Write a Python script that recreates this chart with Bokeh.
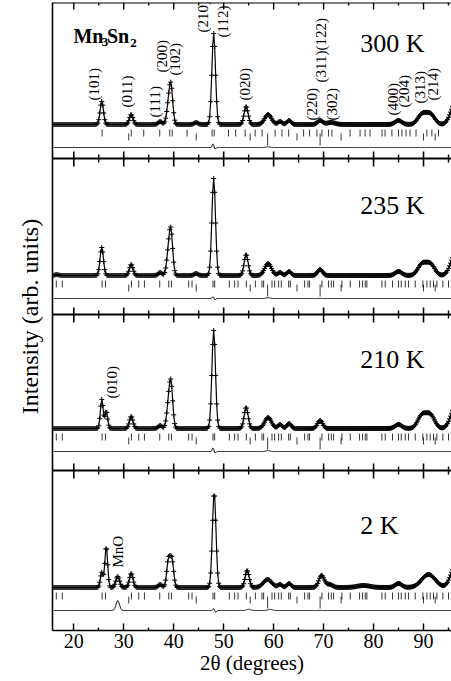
import numpy as np
from bokeh.plotting import figure
from bokeh.models import Range1d, FixedTicker, ColumnDataSource, Span, Title
from bokeh.embed import file_html
from bokeh.resources import INLINE
from bokeh.core.properties import value

FONT = "Liberation Serif"

# ---------------- data ----------------
TWO_THETA = np.round(np.arange(16.0, 96.01, 0.2), 2)

# peak positions (deg), heights (arb. units), FWHM (deg)
P300_POS = [25.6, 31.5, 37.3, 38.9, 39.45, 44.5, 48.0, 54.5, 58.9, 61.3, 63.1, 69.3, 71.5, 85.0, 89.7, 91.4, 96.4]
P300_AMP = [23, 10, 3, 15, 37, 2, 91, 18, 10, 3, 4, 4, 2, 4, 10, 10, 22]
P300_FW = [0.8, 0.85, 0.9, 0.85, 0.85, 0.9, 0.85, 0.95, 1.6, 1.0, 1.0, 1.2, 2.0, 1.6, 2.0, 2.0, 2.2]

P235_POS = [16.6, 25.6, 31.5, 37.3, 38.9, 39.45, 44.5, 48.0, 54.5, 58.9, 61.3, 63.1, 69.3, 85.0, 89.7, 91.4, 96.4]
P235_AMP = [1, 28, 11, 3, 18, 42, 2, 97, 21, 12, 3, 4, 6, 4, 11, 11, 22]
P235_FW = [0.8, 0.8, 0.85, 0.9, 0.85, 0.85, 0.9, 0.85, 0.95, 1.6, 1.0, 1.0, 1.2, 1.6, 2.0, 2.0, 2.2]

P210_POS = [25.6, 26.5, 31.5, 37.3, 38.9, 39.45, 48.0, 54.5, 58.9, 61.3, 63.1, 69.3, 85.0, 89.7, 91.4, 96.4]
P210_AMP = [29, 17, 12, 3, 18, 43, 98, 21, 11, 4, 5, 8, 4, 13, 13, 22]
P210_FW = [0.65, 0.65, 0.85, 0.9, 0.85, 0.85, 0.85, 0.95, 1.6, 1.0, 1.0, 1.2, 1.6, 2.0, 2.0, 2.2]

P2_POS = [25.6, 26.5, 28.8, 31.5, 37.3, 38.95, 39.65, 48.1, 54.7, 58.8, 61.3, 63.1, 69.6, 71.2, 78.0, 85.0, 91.0, 96.4]
P2_AMP = [15, 41, 11, 14, 3, 27, 27, 95, 17, 8, 3, 4, 12, 3, 2, 4, 13, 22]
P2_FW = [0.65, 0.65, 0.9, 0.85, 0.9, 0.8, 0.8, 0.85, 0.95, 2.0, 1.0, 1.0, 1.3, 1.5, 3.0, 1.6, 3.2, 2.2]

# difference curves (obs - calc) features
D300_POS, D300_AMP, D300_FW = [47.9, 48.25, 58.9], [4, -2, 0.7], [0.4, 0.4, 1.0]
D235_POS, D235_AMP, D235_FW = [47.9, 48.25, 58.9], [2, -1.5, 0.8], [0.4, 0.4, 1.0]
D210_POS, D210_AMP, D210_FW = [47.9, 48.25, 58.9], [4, -2, 0.8], [0.4, 0.4, 1.0]
D2_POS, D2_AMP, D2_FW = [28.8, 48.0, 48.4, 55.0, 59.3], [10, 2, -2, 1.2, 1.2], [0.8, 0.4, 0.4, 1.0, 1.0]

# Bragg reflection positions
NUC_TICKS = [25.67, 31.5, 34.0, 37.2, 39.2, 39.7, 42.67, 47.67, 48.1, 50.97, 52.4, 54.3, 56.3, 57.7,
             60.3, 61.67, 63.0, 66.0, 67.2, 68.67, 69.67, 71.0, 71.67, 75.3, 77.3, 78.3, 79.3,
             81.7, 82.3, 83.67, 85.0, 85.67, 86.5, 87.3, 88.5, 90.67, 91.67, 93.0]
NUCMAG_TICKS = [16.5, 17.7, 25.67, 26.34, 31.54, 33.0, 34.14, 37.2, 39.0, 39.54, 43.0, 43.67, 47.87, 48.2,
                51.14, 52.2, 52.87, 54.54, 56.34, 57.67, 58.0, 59.67, 60.2, 61.0, 61.54, 63.0, 63.34,
                66.2, 66.87, 67.2, 69.67, 71.0, 71.54, 72.0, 73.67, 75.34, 77.2, 77.8, 78.34, 78.67,
                81.67, 82.34, 83.8, 85.0, 85.54, 86.34, 87.0, 88.34, 89.87, 90.67, 91.34, 92.0, 92.67,
                93.87, 95.0]
SEC_TICKS = [31.0, 44.5, 55.3, 64.67, 73.5, 90.0, 92.33]
MNO_TICKS = [58.8, 69.3]

PANEL_LABELS = ["300 K", "235 K", "210 K", "2 K"]
HKL_TEXT = ["(101)", "(011)", "(111)", "(200)", "(102)", "(210)", "(112)", "(020)", "(220)",
            "(311)(122)", "(302)", "(400)", "(204)", "(313)", "(214)"]

MAJOR = [20, 30, 40, 50, 60, 70, 80, 90]
MINOR = [25, 35, 45, 55, 65, 75, 85, 95]

# ---------------- layout constants ----------------
BASE = [506, 355, 202, 43]          # baseline of each pattern
SEP_LINES = [472, 316, 160]         # inner axis lines between panels
TOP_Y = 628
LABEL_Y = [587, 425, 271, 105]
HKL_X = [24.14, 30.74, 36.34, 37.74, 40.34, 45.94, 49.94, 54.34, 67.74, 69.54, 71.74, 83.94, 86.14, 89.34, 91.94]
HKL_Y = [530, 523, 513, 558, 555, 598, 593, 530, 510, 548, 510, 515, 523, 527, 530]


def gauss_sum(pos, amp, fw):
    y = np.zeros_like(TWO_THETA)
    for c, a, w in zip(pos, amp, fw):
        s = w / 2.3548
        y = y + a * np.exp(-0.5 * ((TWO_THETA - c) / s) ** 2)
    return y


p = figure(width=451, height=681, output_backend="svg", toolbar_location=None,
           x_range=Range1d(15.74, 95.6), y_range=Range1d(0, 628),
           min_border_left=52, min_border_right=0, min_border_top=2, min_border_bottom=51)
p.outline_line_color = None
p.grid.visible = False
p.background_fill_color = "white"
p.border_fill_color = "white"

ticker = FixedTicker(ticks=MAJOR, minor_ticks=MINOR)
xa = p.xaxis[0]
xa.ticker = ticker
xa.major_tick_in, xa.major_tick_out = 7, 0
xa.minor_tick_in, xa.minor_tick_out = 3, 0
xa.axis_line_width = 1.6
xa.major_tick_line_width = 1.4
xa.minor_tick_line_width = 1.4
xa.major_label_text_font = FONT
xa.major_label_text_font_size = "20px"
xa.major_label_text_color = "black"
xa.major_label_standoff = 3
xa.axis_label = "2θ (degrees)"
xa.axis_label_text_font = FONT
xa.axis_label_text_font_size = "21px"
xa.axis_label_text_font_style = "normal"
xa.axis_label_text_color = "black"
xa.axis_label_standoff = 0

ya = p.yaxis[0]
ya.ticker = FixedTicker(ticks=[])
ya.major_tick_line_color = None
ya.minor_tick_line_color = None
ya.major_tick_out = 0
ya.major_tick_in = 0
ya.major_label_standoff = 0
ya.axis_line_width = 1.6

# y-axis title (placed slightly below the frame centre as in the reference)
p.add_layout(Title(text="Intensity (arb. units)", align="center", offset=-30,
                   text_font=FONT, text_font_size="24px", text_font_style="normal",
                   text_color="black", standoff=20), "left")

# top frame line with inward ticks
p.add_layout(Span(location=TOP_Y, dimension="width", line_color="black", line_width=1.8))
p.segment(x0=MAJOR, y0=[TOP_Y - 7] * len(MAJOR), x1=MAJOR, y1=[TOP_Y] * len(MAJOR),
          line_color="black", line_width=1.4)
p.segment(x0=MINOR, y0=[TOP_Y - 3] * len(MINOR), x1=MINOR, y1=[TOP_Y] * len(MINOR),
          line_color="black", line_width=1.4)

# inner axis lines with crossing ticks
for yl in SEP_LINES:
    p.add_layout(Span(location=yl, dimension="width", line_color="black", line_width=2))
    p.segment(x0=MAJOR, y0=[yl - 8] * len(MAJOR), x1=MAJOR, y1=[yl + 7] * len(MAJOR),
              line_color="black", line_width=1.6)
    p.segment(x0=MINOR, y0=[yl - 4] * len(MINOR), x1=MINOR, y1=[yl + 4] * len(MINOR),
              line_color="black", line_width=1.4)

profiles = [(P300_POS, P300_AMP, P300_FW), (P235_POS, P235_AMP, P235_FW),
            (P210_POS, P210_AMP, P210_FW), (P2_POS, P2_AMP, P2_FW)]
diffs = [(D300_POS, D300_AMP, D300_FW), (D235_POS, D235_AMP, D235_FW),
         (D210_POS, D210_AMP, D210_FW), (D2_POS, D2_AMP, D2_FW)]
row_a = [NUC_TICKS, NUCMAG_TICKS, NUCMAG_TICKS, NUCMAG_TICKS]

for i in range(4):
    b = BASE[i]
    yobs = b + gauss_sum(*profiles[i])
    src = ColumnDataSource(dict(x=TWO_THETA, y=yobs))
    p.scatter("x", "y", source=src, marker="cross", size=5, line_color="black", line_width=1)
    p.line("x", "y", source=src, line_color="black", line_width=1.2)

    ydiff = b - 23 + gauss_sum(*diffs[i])
    p.line(TWO_THETA, ydiff, line_color="black", line_width=0.9)

    ra = row_a[i]
    p.segment(x0=ra, y0=[b - 12] * len(ra), x1=ra, y1=[b - 5] * len(ra),
              line_color="black", line_width=0.8)
    p.segment(x0=SEC_TICKS, y0=[b - 16] * len(SEC_TICKS), x1=SEC_TICKS, y1=[b - 9] * len(SEC_TICKS),
              line_color="black", line_width=0.8)
    p.segment(x0=MNO_TICKS, y0=[b - 21] * len(MNO_TICKS), x1=MNO_TICKS, y1=[b - 9] * len(MNO_TICKS),
              line_color="black", line_width=0.8)

# temperature labels
p.text(x=[77.34] * 4, y=LABEL_Y, text=PANEL_LABELS, text_font=value(FONT),
       text_font_size="26px", text_color="black", text_align="left", text_baseline="alphabetic")

# compound label Mn3Sn2
p.text(x=[19.94, 26.64], y=[595, 595], text=["Mn", "Sn"], text_font=value(FONT),
       text_font_size="20px", text_font_style="bold", text_color="black",
       text_align="left", text_baseline="alphabetic")
p.text(x=[25.6, 31.3], y=[589, 588], text=["3", "2"], text_font=value(FONT),
       text_font_size="13px", text_font_style="bold", text_color="black",
       text_align="left", text_baseline="alphabetic")

# reflection labels (rotated)
p.text(x=HKL_X, y=HKL_Y, text=HKL_TEXT, angle=np.pi / 2, text_font=value(FONT),
       text_font_size="15px", text_color="black", text_align="left", text_baseline="middle")
p.text(x=[27.74], y=[232], text=["(010)"], angle=np.pi / 2, text_font=value(FONT),
       text_font_size="15px", text_color="black", text_align="left", text_baseline="middle")
p.text(x=[28.94], y=[63], text=["MnO"], angle=np.pi / 2, text_font=value(FONT),
       text_font_size="15px", text_color="black", text_align="left", text_baseline="middle")

open("out.html", "w").write(file_html(p, INLINE))
